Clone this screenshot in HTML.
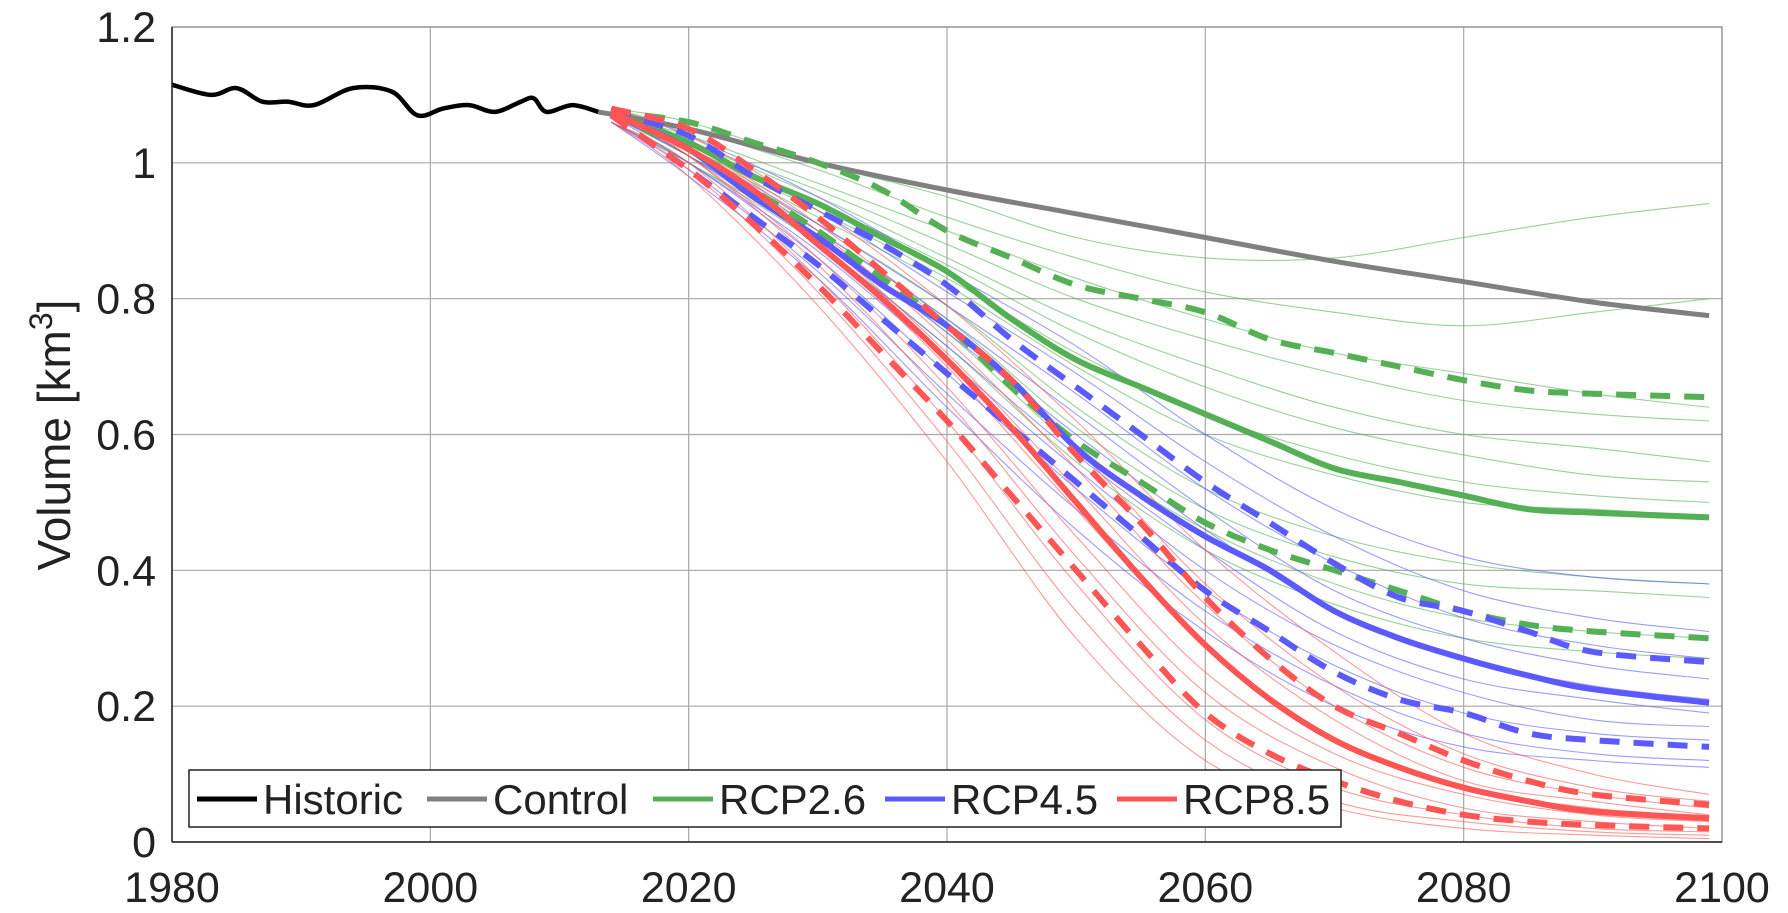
<!DOCTYPE html>
<html><head><meta charset="utf-8">
<style>
html,body{margin:0;padding:0;background:#fff;}
svg{display:block;font-family:"Liberation Sans",Arial,sans-serif;}
</style></head>
<body>
<svg id="chart" width="1788" height="913" viewBox="0 0 1788 913" xmlns="http://www.w3.org/2000/svg">
<g id="grid"></g>
<g id="series"></g>
<g id="axes"></g>
<text transform="translate(70,435) rotate(-90)" text-anchor="middle" font-size="46" fill="#222">Volume [km<tspan dy="-18" font-size="32">3</tspan><tspan dy="18">]</tspan></text>
<g id="legend"></g>
</svg>
<script>
const xTicks=[1980,2000,2020,2040,2060,2080,2100];
const yTicks=[0,0.2,0.4,0.6,0.8,1,1.2];
const yTickLabels=["0","0.2","0.4","0.6","0.8","1","1.2"];
const histYears=[1980,1983,1985,1987,1989,1991,1994,1997,1999,2001,2003,2005,2007,2008,2009,2011,2013];
const histVals=[1.115,1.10,1.11,1.09,1.09,1.085,1.11,1.105,1.07,1.08,1.085,1.075,1.09,1.095,1.075,1.085,1.075];
const ctrlYears=[2013,2020,2030,2040,2050,2060,2070,2080,2090,2099];
const ctrlVals=[1.075,1.05,1.0,0.96,0.925,0.89,0.855,0.825,0.795,0.775];
const sumYears=[2014,2020,2025,2030,2035,2040,2045,2050,2055,2060,2065,2070,2075,2080,2085,2090,2099];
const g26Med=[1.075,1.03,0.98,0.94,0.89,0.84,0.77,0.71,0.67,0.63,0.59,0.55,0.53,0.51,0.49,0.485,0.478];
const g26Hi=[1.075,1.06,1.03,1.0,0.96,0.90,0.86,0.82,0.80,0.78,0.74,0.72,0.70,0.68,0.665,0.66,0.655];
const g26Lo=[1.07,1.02,0.96,0.90,0.83,0.76,0.67,0.59,0.53,0.47,0.43,0.40,0.37,0.34,0.32,0.31,0.30];
const b45Med=[1.075,1.02,0.95,0.89,0.82,0.76,0.68,0.58,0.51,0.45,0.40,0.34,0.30,0.27,0.245,0.225,0.205];
const b45Hi=[1.075,1.04,0.98,0.93,0.88,0.82,0.74,0.67,0.60,0.53,0.47,0.41,0.36,0.34,0.31,0.28,0.265];
const b45Lo=[1.07,0.99,0.92,0.85,0.77,0.69,0.61,0.53,0.45,0.37,0.31,0.25,0.21,0.19,0.16,0.15,0.14];
const r85Med=[1.075,1.02,0.96,0.88,0.80,0.71,0.61,0.50,0.39,0.29,0.21,0.15,0.11,0.08,0.06,0.045,0.035];
const r85Hi=[1.08,1.05,0.99,0.92,0.84,0.76,0.68,0.57,0.47,0.36,0.27,0.20,0.16,0.12,0.09,0.07,0.055];
const r85Lo=[1.07,0.99,0.91,0.82,0.72,0.62,0.51,0.40,0.29,0.19,0.13,0.09,0.06,0.04,0.03,0.025,0.02];
const ensYears=[2014,2020,2030,2040,2050,2060,2070,2080,2090,2099];
const greenMembers=[
[1.08,1.06,1.00,0.95,0.89,0.86,0.86,0.89,0.92,0.94],
[1.08,1.05,0.99,0.92,0.86,0.81,0.78,0.76,0.78,0.80],
[1.07,1.04,0.97,0.90,0.83,0.77,0.72,0.69,0.66,0.64],
[1.07,1.03,0.96,0.88,0.80,0.74,0.69,0.65,0.63,0.62],
[1.07,1.03,0.95,0.86,0.77,0.70,0.64,0.60,0.58,0.56],
[1.07,1.02,0.94,0.85,0.75,0.67,0.61,0.57,0.54,0.53],
[1.07,1.02,0.93,0.83,0.72,0.63,0.57,0.53,0.51,0.50],
[1.07,1.02,0.92,0.82,0.70,0.60,0.54,0.50,0.49,0.48],
[1.07,1.01,0.91,0.79,0.64,0.52,0.45,0.41,0.39,0.38],
[1.07,1.01,0.90,0.77,0.61,0.49,0.42,0.38,0.37,0.36],
[1.06,1.00,0.89,0.75,0.58,0.46,0.38,0.33,0.31,0.30],
[1.06,1.00,0.88,0.73,0.56,0.43,0.35,0.30,0.28,0.27]];
const blueMembers=[
[1.08,1.04,0.95,0.84,0.73,0.60,0.49,0.42,0.39,0.38],
[1.07,1.03,0.93,0.81,0.69,0.56,0.45,0.37,0.33,0.31],
[1.07,1.02,0.91,0.79,0.66,0.52,0.41,0.33,0.29,0.27],
[1.07,1.02,0.90,0.77,0.63,0.49,0.37,0.30,0.26,0.24],
[1.07,1.01,0.89,0.75,0.60,0.46,0.34,0.27,0.23,0.21],
[1.07,1.01,0.88,0.73,0.57,0.43,0.31,0.24,0.21,0.19],
[1.07,1.00,0.87,0.71,0.55,0.40,0.29,0.22,0.18,0.17],
[1.06,1.00,0.86,0.69,0.52,0.37,0.26,0.19,0.16,0.15],
[1.06,0.99,0.84,0.66,0.49,0.34,0.23,0.16,0.13,0.12],
[1.06,0.98,0.83,0.64,0.46,0.31,0.20,0.14,0.12,0.11]];
const redMembers=[
[1.08,1.04,0.93,0.79,0.62,0.43,0.28,0.16,0.10,0.07],
[1.08,1.03,0.91,0.76,0.58,0.38,0.23,0.13,0.08,0.06],
[1.07,1.03,0.90,0.74,0.55,0.35,0.20,0.11,0.07,0.05],
[1.07,1.02,0.89,0.72,0.52,0.32,0.18,0.09,0.06,0.04],
[1.07,1.02,0.88,0.70,0.49,0.29,0.15,0.08,0.05,0.035],
[1.07,1.01,0.86,0.67,0.45,0.25,0.13,0.07,0.04,0.03],
[1.07,1.01,0.85,0.65,0.42,0.22,0.11,0.05,0.03,0.02],
[1.06,1.00,0.83,0.62,0.38,0.18,0.08,0.04,0.02,0.015],
[1.06,0.99,0.81,0.59,0.34,0.15,0.06,0.03,0.015,0.01],
[1.06,0.98,0.79,0.56,0.30,0.12,0.05,0.02,0.01,0.005]];
const legendLabels=["Historic","Control","RCP2.6","RCP4.5","RCP8.5"];

const L=172,R=1722,T=27,B=842;
const X=v=>L+(v-1980)/120*(R-L);
const Y=v=>B-v/1.2*(B-T);
const NS="http://www.w3.org/2000/svg";
function mk(tag,attrs,parent){const e=document.createElementNS(NS,tag);for(const k in attrs)e.setAttribute(k,attrs[k]);parent.appendChild(e);return e;}
function pathD(xs,ys){
  const p=xs.map((x,i)=>[X(x),Y(ys[i])]);
  let d="M"+p[0][0].toFixed(1)+","+p[0][1].toFixed(1);
  for(let i=0;i<p.length-1;i++){
    const p0=p[i-1]||p[i],p1=p[i],p2=p[i+1],p3=p[i+2]||p2;
    const c1=[p1[0]+(p2[0]-p0[0])/6,p1[1]+(p2[1]-p0[1])/6];
    const c2=[p2[0]-(p3[0]-p1[0])/6,p2[1]-(p3[1]-p1[1])/6];
    d+=" C"+c1.map(v=>v.toFixed(1))+" "+c2.map(v=>v.toFixed(1))+" "+p2.map(v=>v.toFixed(1));
  }
  return d;
}
const grid=document.getElementById('grid'),axes=document.getElementById('axes'),ser=document.getElementById('series'),leg=document.getElementById('legend');
xTicks.forEach(t=>{
  const g=mk('line',{x1:X(t),x2:X(t),y1:T,y2:B,stroke:'#a8a8a8','stroke-width':1.2},grid);
  
  
  const tx=mk('text',{x:X(t),y:902,'text-anchor':'middle','font-size':43,fill:'#222'},axes);
  tx.textContent=t;
  
  
});
yTicks.forEach((t,i)=>{
  const g=mk('line',{x1:L,x2:R,y1:Y(t),y2:Y(t),stroke:'#a8a8a8','stroke-width':1.2},grid);
  
  
  const tx=mk('text',{x:156,y:Y(t)+15,'text-anchor':'end','font-size':43,fill:'#222'},axes);
  tx.textContent=yTickLabels[i];
  
  
});
const frame=mk('rect',{x:L,y:T,width:R-L,height:B-T,fill:'none',stroke:'#888','stroke-width':1.2},axes);


const xa=mk('line',{x1:L,x2:R,y1:B,y2:B,stroke:'#222','stroke-width':1.5},axes);


const ya=mk('line',{x1:L,x2:L,y1:T,y2:B,stroke:'#222','stroke-width':1.5},axes);



const GREEN='#55b055',BLUE='#5a5aff',RED='#ff5555';
function thin(arr,col,name){arr.forEach(m=>{const p=mk('path',{d:pathD(ensYears,m),fill:'none',stroke:col,'stroke-opacity':0.6,'stroke-width':1.1},ser);

});}
thin(greenMembers,GREEN,'rcp26-member');
thin(blueMembers,BLUE,'rcp45-member');
thin(redMembers,RED,'rcp85-member');
function thick(ys,vals,col,dash,name){const p=mk('path',{d:pathD(ys,vals),fill:'none',stroke:col,'stroke-width':6,'stroke-dasharray':dash?'20 14':'none'},ser);

}
const ctl=mk('path',{d:pathD(ctrlYears,ctrlVals),fill:'none',stroke:'#808080','stroke-width':5},ser);


thick(sumYears,g26Hi,GREEN,true,'rcp26-upper');
thick(sumYears,g26Lo,GREEN,true,'rcp26-lower');
thick(sumYears,g26Med,GREEN,false,'rcp26-median');
thick(sumYears,b45Hi,BLUE,true,'rcp45-upper');
thick(sumYears,b45Lo,BLUE,true,'rcp45-lower');
thick(sumYears,b45Med,BLUE,false,'rcp45-median');
thick(sumYears,r85Hi,RED,true,'rcp85-upper');
thick(sumYears,r85Lo,RED,true,'rcp85-lower');
thick(sumYears,r85Med,RED,false,'rcp85-median');
const hist=mk('path',{d:pathD(histYears,histVals),fill:'none',stroke:'#000','stroke-width':4.5},ser);



const box=mk('rect',{x:189,y:770,width:1152,height:57,fill:'#fff',stroke:'#222','stroke-width':1.5},leg);


const legCols=['#000','#808080',GREEN,BLUE,RED];
const legX=[197,427,653,885,1117];
legendLabels.forEach((lab,i)=>{
  const ln=mk('line',{x1:legX[i],x2:legX[i]+60,y1:799,y2:799,stroke:legCols[i],'stroke-width':5},leg);
  
  
  const tx=mk('text',{x:legX[i]+66,y:814,'font-size':42,fill:'#222'},leg);
  tx.textContent=lab;
  
  
});
</script>
</body></html>
